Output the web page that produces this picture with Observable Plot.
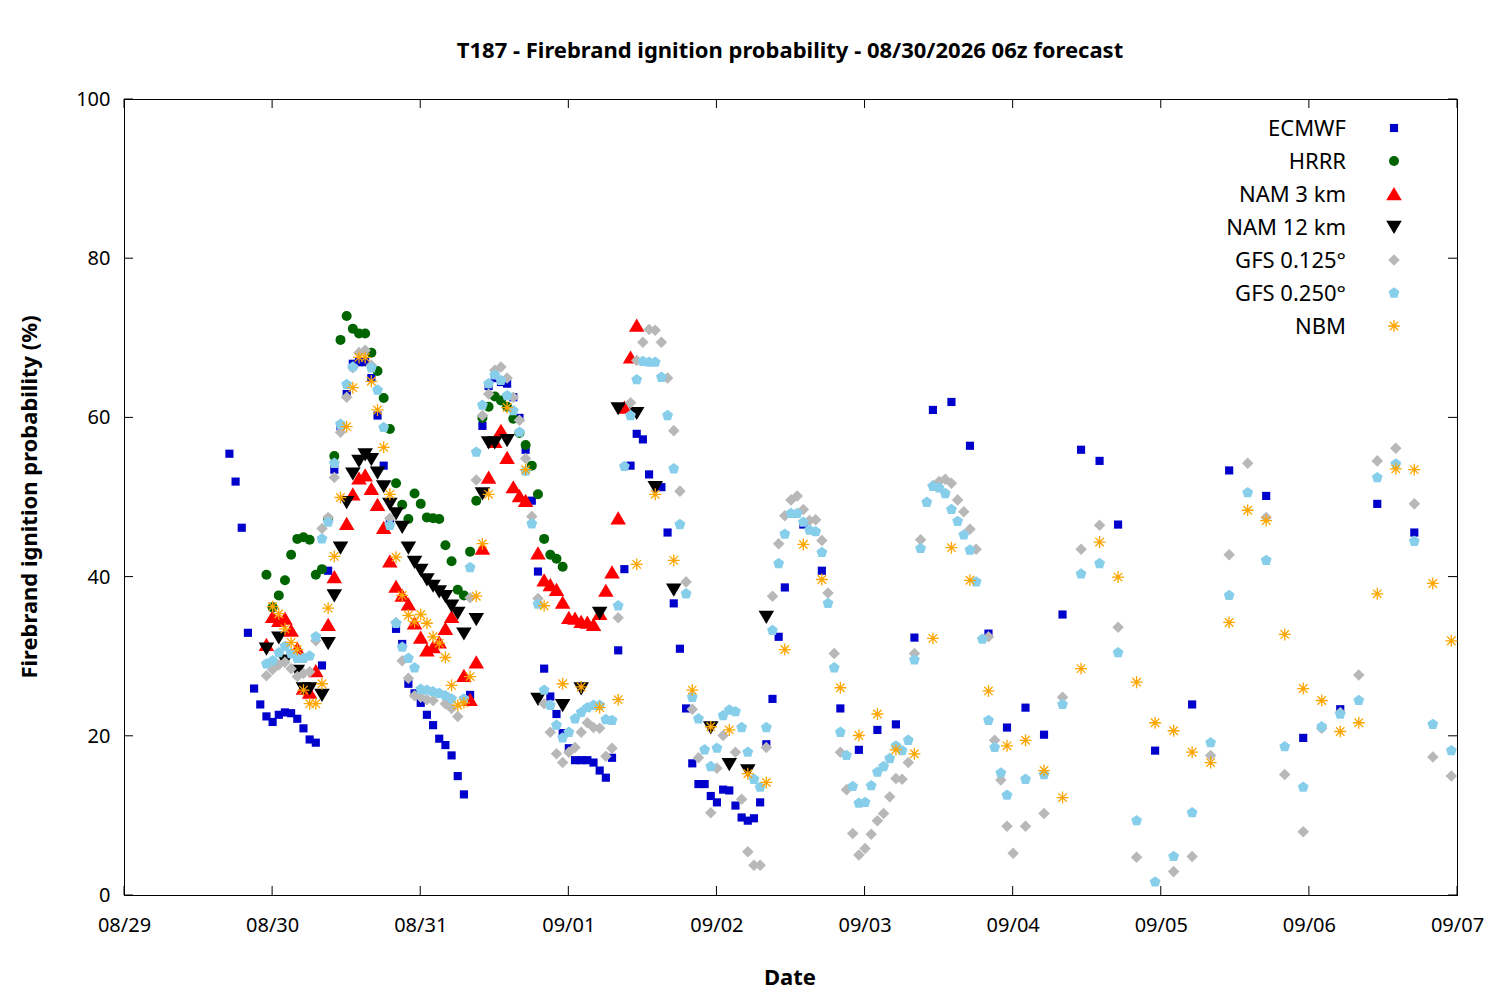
<!DOCTYPE html>
<html><head><meta charset="utf-8">
<script src="https://cdn.jsdelivr.net/npm/d3@7"></script>
<script src="https://cdn.jsdelivr.net/npm/@observablehq/plot@0.6"></script>
<style>body{margin:0;background:#fff;font-family:"Noto Sans",sans-serif}</style>
</head><body><div id="chart"></div>
<script>
const ecmwfH=[17,18,19,20,21,22,23,24,25,26,27,28,29,30,31,32,33,34,35,36,37,38,39,40,41,42,43,44,45,46,47,48,49,50,51,52,53,54,55,56,58,59,60,61,62,63,64,65,66,67,68,69,70,71,72,73,74,75,76,77,78,79,80,81,82,83,84,85,87,88,89,90,91,92,93,94,95,96,97,98,99,100,101,102,103,104,105,106,107,110,113,116,119,122,125,128,131,134,137,140,143,146,149,152,155,158,161,167,173,179,185,191,197,203,209];
const ecmwfV=[55.5,52,46.2,33,26,24,22.5,21.8,22.7,23,22.9,22.2,21,19.6,19.2,28.9,40.8,53.5,59,63,66.8,67,67,65,60.3,54,47,33.5,31.6,26.6,25.4,24.2,22.7,21.4,19.7,18.9,17.6,15,12.7,25.2,59,64,65,64.5,64.3,62.6,60,56,49.6,40.7,28.5,25,22.8,20.4,18.5,17,17,17,16.7,15.7,14.8,17.3,30.8,41,54,58,57.3,52.9,51.3,45.6,36.7,31,23.5,16.6,14,14,12.5,11.7,13.3,13.2,11.3,9.8,9.4,9.7,11.7,19,24.7,32.5,38.7,46.6,40.8,23.5,18.3,20.8,21.5,32.4,61,62,56.5,32.9,21.1,23.6,20.2,35.3,56,54.6,46.6,18.2,24,53.4,50.2,19.8,23.4,49.2,45.6];
const hrrrH=[23,24,25,26,27,28,29,30,31,32,33,34,35,36,37,38,39,40,41,42,43,44,45,46,47,48,49,50,51,52,53,54,55,56,57,58,59,60,61,62,63,64,65,66,67,68,69,70,71];
const hrrrV=[40.3,36.2,37.7,39.6,42.8,44.8,45,44.7,40.3,41,47.3,55.2,69.8,72.8,71.2,70.6,70.6,68.2,65.9,62.5,58.6,51.8,49.1,47.3,50.5,49.2,47.5,47.4,47.3,44,42,38.4,37.7,43.2,49.6,60,61.4,62.7,62.2,61.4,59.9,58.1,56.6,54,50.4,44.8,42.8,42.3,41.3];
const nam3H=[23,24,25,26,27,28,29,30,31,33,34,36,37,38,39,40,41,42,43,44,45,46,47,48,49,50,51,52,53,55,56,57,58,59,60,61,62,63,64,65,67,68,69,70,71,72,73,74,75,76,77,78,79,80,81,82,83];
const nam3V=[31.5,35,34.5,34.8,33.3,31,26,25.5,28.2,34,40,46.7,50.4,52.4,52.8,51.1,49.1,46.2,42,38.8,37.7,36.6,34.2,32.4,30.8,31.2,31.8,33.5,35,27.6,24.6,29.3,43.6,52.5,57,58.4,55,51.3,50.2,49.6,43,39.6,39,38.4,36.8,34.9,34.8,34.4,34.3,34,35.4,38.3,40.6,47.4,61.3,67.6,71.6];
const nam12H=[23,25,26,28,29,30,32,33,34,35,36,37,38,39,40,41,42,43,44,45,46,47,48,49,50,51,52,53,54,55,57,58,59,60,62,67,71,74,77,80,83,86,89,95,98,101,104];
const nam12V=[31,32.4,29.5,28.2,26,26,25.2,31.7,37.7,43.7,49.4,53,54.6,55.4,54.8,53.1,51.4,49.2,48,46.3,43.7,41.9,40.9,39.7,38.9,38.2,37.6,36.4,35.5,32.9,34.7,50.5,56.9,56.9,57.2,24.7,23.9,26,35.5,61.2,60.6,51.3,38.4,21.1,16.5,15.7,35];
const gfs125H=[23,24,25,26,27,28,29,30,31,32,33,34,35,36,37,38,39,40,43,44,45,46,47,48,49,50,52,53,54,56,57,58,59,60,61,62,63,64,65,66,67,68,69,70,71,72,73,74,75,76,77,78,79,80,82,83,84,85,86,87,88,89,90,91,92,93,95,96,97,99,100,101,102,103,104,105,106,107,108,109,110,111,112,113,114,115,116,117,118,119,120,121,122,123,124,125,126,127,128,129,131,132,133,134,135,136,137,138,140,141,142,143,144,146,149,152,155,158,161,164,170,173,176,179,182,185,188,191,194,197,200,203,206,209,212,215];
const gfs125V=[27.6,28.4,29,29.3,28.5,27.5,27.9,28.1,32,46.1,47.5,52.5,58.2,62.6,66.3,68.2,68.5,66.6,47.4,34.3,29.5,27.3,25.1,24.9,24.6,24.5,24.1,23.5,22.5,37.4,52.2,60.3,63,66,66.4,65,62.6,59.7,54.9,47.6,37.3,24.1,20.5,17.8,16.7,18,18.6,20.5,21.7,21.1,21,17.5,18.5,34.9,61.9,67.2,69.5,71.1,71,69.5,65,58.4,50.8,39.4,23.4,17.3,10.4,16,20.1,18,12.1,5.5,3.8,3.8,18.6,37.6,44.2,47.7,49.7,50.2,48.5,47.1,47.2,44.6,38,30.4,18,13.3,7.8,5.1,5.9,7.7,9.4,10.3,12.4,14.7,14.6,16.7,30.4,44.7,51.5,52,52.3,51.8,49.7,48.2,46,43.5,32.5,19.5,14.5,8.7,5.3,8.7,10.3,24.9,43.5,46.5,33.7,4.8,3,4.9,17.6,42.8,54.3,47.5,15.2,8,21,23,27.7,54.6,56.2,49.2,17.4,15];
const gfs25H=[23,24,25,26,27,28,29,30,31,32,33,34,35,36,37,40,41,42,43,44,45,46,47,48,49,50,51,52,53,55,56,57,58,59,60,61,62,63,64,65,66,67,68,69,70,71,72,73,74,75,76,77,78,79,80,81,82,83,84,85,86,87,88,89,90,91,92,93,94,95,96,97,98,99,100,101,102,103,104,105,106,107,108,109,110,111,112,113,114,115,116,117,118,119,120,121,122,123,124,125,126,127,128,129,130,131,132,133,134,135,136,137,138,139,140,141,142,143,146,149,152,155,158,161,164,167,170,173,176,179,182,185,188,191,194,197,200,203,206,209,212,215];
const gfs25V=[29.1,29.5,30.5,31.3,30.4,29.8,29.8,30.1,32.5,44.8,46.9,54.3,59.2,64.2,66.4,66.3,63.5,58.8,46.5,34.2,31.2,29.8,28.6,25.9,25.8,25.6,25.4,25.1,24.7,24.7,41.2,55.7,61.6,64.3,65.4,64.7,62.8,60.9,58.2,53.3,46.7,36.6,25.8,23.9,21.4,19.8,20.5,22.2,23,23.6,23.9,23.9,22.1,22,36.4,53.9,60.3,64.8,67.1,67,67,65.1,60.3,53.6,46.6,37.9,24.9,22.2,18.3,16.2,18.5,22.6,23.3,23.1,21.1,18,14.6,13.6,21.1,33.3,41.7,45.4,48,48,46.9,45.9,45.7,43.1,36.7,28.6,20.5,17.6,13.7,11.6,11.7,13.8,15.5,16.2,17.2,18.8,18.2,19.5,29.6,43.6,49.4,51.4,51.2,50.5,48.5,47,45.3,43.4,39.4,32.2,22,18.6,15.4,12.6,14.6,15.2,24,40.4,41.7,30.5,9.4,1.7,4.9,10.4,19.2,37.7,50.6,42.1,18.7,13.6,21.2,22.8,24.5,52.5,54.2,44.5,21.5,18.2];
const nbmH=[24,25,26,27,28,29,30,31,32,33,34,35,36,37,38,39,40,41,42,43,44,45,46,47,48,49,50,51,52,53,54,55,56,57,58,59,62,65,68,71,74,77,80,83,86,89,92,95,98,101,104,107,110,113,116,119,122,125,128,131,134,137,140,143,146,149,152,155,158,161,164,167,170,173,176,179,182,185,188,191,194,197,200,203,206,209,212,215];
const nbmV=[36.3,35.4,33.5,31.8,30.9,25.8,24.1,24.1,26.6,36.1,42.6,50,58.9,63.8,67.6,67.6,64.6,61,56.3,50.4,42.5,37.7,35.2,34.4,35.3,34.2,32.5,31.7,29.9,26.4,23.9,24.2,27.5,37.6,44.2,50.4,61.3,53.5,36.4,26.6,26.2,23.6,24.6,41.6,50.4,42.1,25.8,21.2,20.8,15.3,14.2,30.9,44.1,39.7,26.1,20.1,22.8,18.3,17.8,32.3,43.7,39.6,25.7,18.8,19.5,15.7,12.3,28.5,44.4,40,26.8,21.7,20.7,18,16.7,34.3,48.4,47.1,32.8,26,24.5,20.6,21.7,37.9,53.6,53.5,39.2,32];
const seriesNames=["ECMWF","HRRR","NAM 3 km","NAM 12 km","GFS 0.125°","GFS 0.250°","NBM"];
const seriesColors=["#0000cc","#006400","#ff0000","#000000","#b8b8b8","#87ceeb","#ffa500"];
const xTickLabels=["08/29","08/30","08/31","09/01","09/02","09/03","09/04","09/05","09/06","09/07"];

const t0=Date.UTC(2026,7,29);
const toDate=h=>new Date(t0+h*3600e3);
const mk=(H,V)=>H.map((h,i)=>({d:toDate(h),v:V[i]}));

const downTri={draw(c,s){const r=Math.sqrt(s/1.3);c.moveTo(-r,-r*0.8);c.lineTo(r,-r*0.8);c.lineTo(0,r*0.9);c.closePath();}};
const upTri={draw(c,s){const r=Math.sqrt(s/1.3);c.moveTo(-r,r*0.8);c.lineTo(r,r*0.8);c.lineTo(0,-r*0.9);c.closePath();}};
const pent={draw(c,s){const r=Math.sqrt(s/2.4);for(let k=0;k<5;k++){const a=-Math.PI/2+k*2*Math.PI/5;k?c.lineTo(r*Math.cos(a),r*Math.sin(a)):c.moveTo(r*Math.cos(a),r*Math.sin(a));}c.closePath();}};
const diam={draw(c,s){const r=Math.sqrt(s/2);c.moveTo(0,-r);c.lineTo(r,0);c.lineTo(0,r);c.lineTo(-r,0);c.closePath();}};
const sq={draw(c,s){const r=Math.sqrt(s)/2;c.rect(-r,-r,2*r,2*r);}};
const ast={draw(c,s){const r=Math.sqrt(s)/1.6;for(let k=0;k<4;k++){const a=k*Math.PI/4;c.moveTo(-r*Math.cos(a),-r*Math.sin(a));c.lineTo(r*Math.cos(a),r*Math.sin(a));}}};
const symbols=[sq,"circle",upTri,downTri,diam,pent,ast];
const datasets=[mk(ecmwfH,ecmwfV),mk(hrrrH,hrrrV),mk(nam3H,nam3V),mk(nam12H,nam12V),mk(gfs125H,gfs125V),mk(gfs25H,gfs25V),mk(nbmH,nbmV)];
const sizes=[4.6,5,5,5,4.6,5,5.4];

const marks=[Plot.frame({stroke:"#000"})];
datasets.forEach((ds,i)=>{
  const o={x:"d",y:"v",symbol:()=>symbols[i],r:sizes[i]};
  if(i===6) marks.push(Plot.dot(ds,{...o,stroke:seriesColors[i],strokeWidth:1.3,fill:"none"}));
  else marks.push(Plot.dot(ds,{...o,fill:seriesColors[i],stroke:"none"}));
});

const chart=Plot.plot({
  width:1500,height:1000,marginLeft:124,marginRight:43,marginTop:99,marginBottom:105,
  style:{fontFamily:"Noto Sans, sans-serif",fontSize:"20px",color:"#000",background:"#fff"},
  symbol:{type:"identity"},
  x:{type:"utc",domain:[toDate(0),toDate(216)],ticks:d3.utcDay.every(1),tickFormat:(d,i)=>xTickLabels[i],tickSize:0,tickPadding:22,label:null},
  y:{domain:[0,100],ticks:[0,20,40,60,80,100],tickSize:0,tickPadding:14,label:null},
  marks
});
const svg=d3.select(chart);
// inward ticks
const xs=chart.scale("x"), ys=chart.scale("y");
const g=svg.append("g").attr("stroke","#000");
for(let k=0;k<=9;k++){const x=xs.apply(toDate(k*24));g.append("line").attr("x1",x).attr("x2",x).attr("y1",895).attr("y2",886);g.append("line").attr("x1",x).attr("x2",x).attr("y1",99).attr("y2",108);}
for(let v=0;v<=100;v+=20){const y=ys.apply(v);g.append("line").attr("x1",124).attr("x2",133).attr("y1",y).attr("y2",y);g.append("line").attr("x1",1457).attr("x2",1448).attr("y1",y).attr("y2",y);}
svg.append("text").attr("x",790).attr("y",58).attr("text-anchor","middle").attr("font-size",22).attr("font-weight","bold").text("T187 - Firebrand ignition probability - 08/30/2026 06z forecast");
svg.append("text").attr("x",790).attr("y",985).attr("text-anchor","middle").attr("font-size",22).attr("font-weight","bold").text("Date");
svg.append("text").attr("transform","translate(37,497) rotate(-90)").attr("text-anchor","middle").attr("font-size",22).attr("font-weight","bold").text("Firebrand ignition probability (%)");
const lg=svg.append("g");
seriesNames.forEach((n,i)=>{
  const y=128+i*33;
  lg.append("text").attr("x",1346).attr("y",y+8).attr("text-anchor","end").attr("font-size",22).text(n);
  const p=d3.path(); const s=sizes[i]*sizes[i]*Math.PI; (typeof symbols[i]==="string"?d3.symbolCircle:symbols[i]).draw(p,s);
  const e=lg.append("path").attr("d",p.toString()).attr("transform",`translate(1394,${y})`);
  if(i===6) e.attr("fill","none").attr("stroke",seriesColors[i]).attr("stroke-width",1.3); else e.attr("fill",seriesColors[i]);
});
document.getElementById("chart").appendChild(chart);
</script></body></html>
